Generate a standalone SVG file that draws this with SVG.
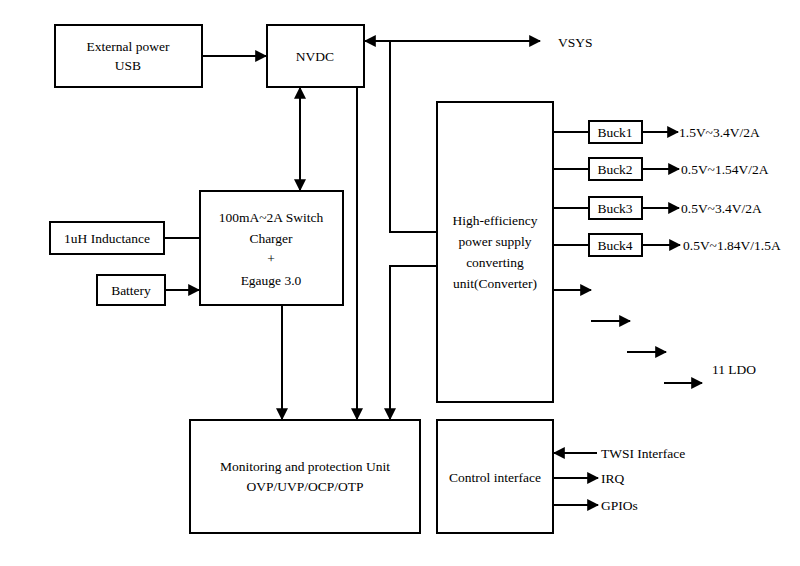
<svg xmlns="http://www.w3.org/2000/svg" width="800" height="566" viewBox="0 0 800 566" font-family="'Liberation Serif','Times New Roman','DejaVu Serif',serif">
<style>
rect{fill:#fff;stroke:#000;stroke-width:2}
line,polyline{stroke:#000;stroke-width:2;fill:none}
text{font-family:'Liberation Serif','Times New Roman','DejaVu Serif',serif;font-size:13.5px;fill:#000;text-anchor:middle}
.l{text-anchor:start}
</style>
<defs>
<marker id="a" viewBox="0 0 10 10" refX="9" refY="5" markerWidth="6" markerHeight="6" orient="auto-start-reverse"><path d="M0,0L10,5L0,10z"/></marker>
</defs>
<rect width="800" height="566" style="stroke:none"/>
<g id="ext"><rect x="55" y="25" width="147" height="62"/><text x="128" y="51">External power</text><text x="128" y="70">USB</text></g>
<g id="nvdc"><rect x="267" y="25" width="97" height="62"/><text x="315" y="61">NVDC</text></g>
<g id="charger"><rect x="200" y="191" width="143" height="114"/><text x="271" y="222">100mA~2A Switch</text><text x="271" y="243">Charger</text><text x="271" y="263">+</text><text x="271" y="285">Egauge 3.0</text></g>
<g id="ind"><rect x="50" y="222" width="114" height="32"/><text x="107" y="243">1uH Inductance</text></g>
<g id="bat"><rect x="97" y="275" width="68" height="30"/><text x="131" y="295">Battery</text></g>
<g id="conv"><rect x="437" y="102" width="116" height="300"/><text x="495" y="225">High-efficiency</text><text x="495" y="246">power supply</text><text x="495" y="267">converting</text><text x="495" y="288">unit(Converter)</text></g>
<g id="buck1"><rect x="589" y="121" width="53" height="22"/><text x="615" y="137">Buck1</text></g>
<g id="buck2"><rect x="589" y="158" width="53" height="22"/><text x="615" y="174">Buck2</text></g>
<g id="buck3"><rect x="589" y="197" width="53" height="22"/><text x="615" y="213">Buck3</text></g>
<g id="buck4"><rect x="589" y="234" width="53" height="22"/><text x="615" y="250">Buck4</text></g>
<g id="mon"><rect x="190" y="420" width="230" height="113"/><text x="305" y="471">Monitoring and protection Unit</text><text x="305" y="491">OVP/UVP/OCP/OTP</text></g>
<g id="ctrl"><rect x="437" y="420" width="116" height="113"/><text x="495" y="482">Control interface</text></g>
<g id="labels">
<text class="l" x="558" y="47">VSYS</text>
<text class="l" x="679" y="137">1.5V~3.4V/2A</text>
<text class="l" x="681" y="174">0.5V~1.54V/2A</text>
<text class="l" x="681" y="213">0.5V~3.4V/2A</text>
<text class="l" x="683" y="250">0.5V~1.84V/1.5A</text>
<text class="l" x="712" y="374">11 LDO</text>
<text class="l" x="601" y="458">TWSI Interface</text>
<text class="l" x="601" y="483">IRQ</text>
<text class="l" x="601" y="510">GPIOs</text>
</g>
<g id="connectors">
<line x1="202" y1="56" x2="266" y2="56" marker-end="url(#a)"/>
<line x1="365" y1="41" x2="540" y2="41" marker-start="url(#a)" marker-end="url(#a)"/>
<line x1="300" y1="88" x2="300" y2="190" marker-start="url(#a)" marker-end="url(#a)"/>
<line x1="164" y1="238" x2="200" y2="238"/>
<line x1="165" y1="290" x2="199" y2="290" marker-end="url(#a)"/>
<polyline points="390,41 390,232 437,232"/>
<polyline points="437,266 390,266 390,419" marker-end="url(#a)"/>
<line x1="357" y1="87" x2="357" y2="419" marker-end="url(#a)"/>
<line x1="282" y1="305" x2="282" y2="419" marker-end="url(#a)"/>
<line x1="553" y1="132" x2="589" y2="132"/>
<line x1="553" y1="169" x2="589" y2="169"/>
<line x1="553" y1="208" x2="589" y2="208"/>
<line x1="553" y1="245" x2="589" y2="245"/>
<line x1="642" y1="132" x2="678" y2="132" marker-end="url(#a)"/>
<line x1="642" y1="169" x2="679" y2="169" marker-end="url(#a)"/>
<line x1="642" y1="208" x2="679" y2="208" marker-end="url(#a)"/>
<line x1="642" y1="245" x2="680" y2="245" marker-end="url(#a)"/>
<line x1="553" y1="290" x2="591" y2="290" marker-end="url(#a)"/>
<line x1="591" y1="321" x2="630" y2="321" marker-end="url(#a)"/>
<line x1="627" y1="352" x2="666" y2="352" marker-end="url(#a)"/>
<line x1="664" y1="383" x2="702" y2="383" marker-end="url(#a)"/>
<line x1="597" y1="453" x2="554" y2="453" marker-end="url(#a)"/>
<line x1="553" y1="478" x2="598" y2="478" marker-end="url(#a)"/>
<line x1="553" y1="505" x2="598" y2="505" marker-end="url(#a)"/>
</g>
</svg>
